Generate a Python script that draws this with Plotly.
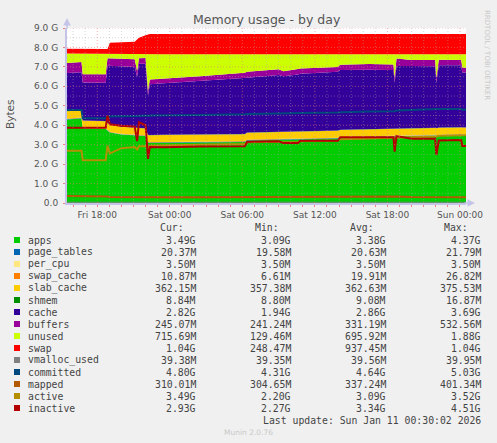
import plotly.graph_objects as go

# sample times (Fri 15:30 -> Sun 00:30)
times = ["2026-01-09 15:30", "2026-01-09 16:42", "2026-01-09 16:48", "2026-01-09 18:42",
         "2026-01-09 18:51", "2026-01-09 19:03", "2026-01-09 20:00", "2026-01-09 21:06",
         "2026-01-09 21:18", "2026-01-09 21:27", "2026-01-09 22:00", "2026-01-09 22:12",
         "2026-01-09 22:21", "2026-01-09 23:30", "2026-01-10 02:30", "2026-01-10 06:12",
         "2026-01-10 06:24", "2026-01-10 09:00", "2026-01-10 09:24", "2026-01-10 10:36",
         "2026-01-10 10:48", "2026-01-10 13:54", "2026-01-10 14:06", "2026-01-10 16:30",
         "2026-01-10 18:30", "2026-01-10 18:36", "2026-01-10 18:45", "2026-01-10 20:00",
         "2026-01-10 21:57", "2026-01-10 22:03", "2026-01-10 22:15", "2026-01-11 00:06",
         "2026-01-11 00:12", "2026-01-11 00:30"]

# stacked series, G
apps = [4.30, 4.35, 3.83, 3.80, 3.72, 3.62, 3.52, 3.48, 3.45, 3.47, 3.44, 3.10, 3.09, 3.10,
        3.11, 3.14, 3.22, 3.25, 3.24, 3.26, 3.28, 3.32, 3.36, 3.40, 3.42, 3.40, 3.44, 3.44,
        3.47, 3.45, 3.48, 3.50, 3.49, 3.49]
cache = [1.95, 1.95, 1.95, 1.97, 2.93, 3.03, 3.10, 3.11, 2.64, 3.29, 3.32, 2.03, 2.62, 2.65,
         2.76, 2.86, 2.82, 2.93, 2.87, 2.95, 2.96, 3.02, 3.08, 3.05, 3.02, 2.39, 3.20, 3.20,
         3.17, 2.34, 3.21, 3.19, 2.83, 2.82]
buffers = [0.52, 0.53, 0.43, 0.44, 0.39, 0.39, 0.40, 0.40, 0.30, 0.28, 0.29, 0.24, 0.24, 0.24,
           0.24, 0.30, 0.30, 0.29, 0.26, 0.28, 0.27, 0.25, 0.27, 0.29, 0.28, 0.25, 0.39, 0.31,
           0.31, 0.25, 0.28, 0.27, 0.25, 0.245]
unused = [0.48, 0.42, 1.04, 1.04, 0.21, 0.21, 0.23, 0.26, 0.86, 0.21, 0.20, 1.88, 1.30, 1.26,
          1.14, 0.95, 0.91, 0.78, 0.88, 0.76, 0.74, 0.66, 0.54, 0.51, 0.53, 1.21, 0.22, 0.30,
          0.30, 1.21, 0.28, 0.29, 0.68, 0.70]
swap = [0.25, 0.25, 0.25, 0.25, 0.26, 0.58, 0.61, 0.64, 0.75, 0.85, 0.98, 1.03, 1.04, 1.04,
        1.04, 1.03, 1.04, 1.04, 1.04, 1.04, 1.04, 1.04, 1.04, 1.04, 1.04, 1.04, 1.04, 1.04,
        1.04, 1.04, 1.04, 1.04, 1.04, 1.04]

# small stacked series, M
page_tables_m = [21.5, 21.8, 21.2, 21.0, 20.9, 20.8, 20.7, 20.6, 20.6, 20.5, 20.5, 19.6, 19.8,
                 20.1, 20.3, 20.5, 20.6, 20.6, 20.7, 20.6, 20.5, 20.6, 20.7, 20.8, 20.6, 20.5,
                 20.7, 20.6, 20.5, 20.4, 20.5, 20.4, 20.4, 20.37]
per_cpu_m = [3.5, 3.5, 3.5, 3.5, 3.5, 3.5, 3.5, 3.5, 3.5, 3.5, 3.5, 3.5, 3.5, 3.5, 3.5, 3.5, 3.5,
             3.5, 3.5, 3.5, 3.5, 3.5, 3.5, 3.5, 3.5, 3.5, 3.5, 3.5, 3.5, 3.5, 3.5, 3.5, 3.5, 3.5]
swap_cache_m = [26.8, 26.5, 25.9, 25.0, 24.3, 23.8, 23.1, 22.6, 22.4, 22.0, 21.7, 21.2, 20.8,
                20.1, 19.6, 19.2, 19.0, 18.6, 18.3, 18.1, 17.9, 17.5, 17.2, 16.8, 16.2, 15.8,
                15.4, 14.6, 13.8, 13.1, 12.5, 11.4, 11.0, 10.87]
slab_cache_m = [375.5, 372.0, 366.0, 364.0, 362.0, 361.0, 360.0, 359.0, 358.0, 358.0, 357.4,
                358.0, 360.0, 361.0, 362.0, 362.0, 363.0, 363.0, 362.0, 362.0, 363.0, 363.0,
                362.0, 362.0, 362.0, 361.0, 362.0, 363.0, 362.0, 362.0, 362.0, 362.0, 362.0, 362.15]
shmem_m = [16.9, 12.5, 10.0, 9.6, 9.3, 9.1, 9.0, 8.9, 8.9, 8.9, 8.9, 8.8, 8.8, 8.8, 8.8, 8.8,
           8.8, 8.8, 8.8, 8.8, 8.8, 8.8, 8.8, 8.8, 8.8, 8.8, 8.8, 8.8, 8.8, 8.8, 8.8, 8.8, 8.8, 8.84]

# line series
vmalloc_used_m = [39.9, 39.9, 39.8, 39.8, 39.7, 39.7, 39.7, 39.6, 39.6, 39.6, 39.6, 39.6, 39.5,
                  39.5, 39.5, 39.5, 39.5, 39.5, 39.5, 39.5, 39.5, 39.4, 39.4, 39.4, 39.4, 39.4,
                  39.4, 39.4, 39.4, 39.4, 39.4, 39.4, 39.4, 39.38]
committed = [4.78, 4.78, 4.36, 4.36, 4.45, 4.45, 4.47, 4.48, 4.46, 4.48, 4.50, 4.47, 4.50, 4.50,
             4.52, 4.57, 4.58, 4.60, 4.60, 4.62, 4.63, 4.66, 4.67, 4.70, 4.72, 4.72, 4.76, 4.78,
             4.82, 4.85, 4.84, 4.84, 4.80, 4.80]
mapped = [0.36, 0.36, 0.35, 0.35, 0.33, 0.31, 0.30, 0.30, 0.30, 0.30, 0.30, 0.30, 0.30, 0.30,
          0.30, 0.31, 0.31, 0.32, 0.32, 0.32, 0.32, 0.32, 0.33, 0.33, 0.33, 0.32, 0.33, 0.31,
          0.31, 0.31, 0.31, 0.30, 0.30, 0.30]
active = [2.69, 2.69, 2.20, 2.20, 2.95, 2.55, 2.82, 2.88, 2.75, 2.92, 2.92, 2.85, 2.95, 2.97,
          3.00, 3.03, 3.12, 3.15, 3.12, 3.14, 3.18, 3.22, 3.28, 3.32, 3.36, 3.34, 3.38, 3.40,
          3.44, 3.42, 3.46, 3.50, 3.49, 3.49]
inactive = [3.87, 3.87, 3.87, 3.87, 4.49, 4.05, 3.97, 3.93, 3.18, 4.15, 4.00, 2.27, 2.88, 2.87,
            2.90, 2.92, 3.15, 3.17, 3.08, 3.08, 3.20, 3.20, 3.38, 3.38, 3.38, 2.64, 3.44, 3.30,
            3.30, 2.47, 3.22, 3.24, 2.93, 2.93]

# legend table
names = ["apps", "page_tables", "per_cpu", "swap_cache", "slab_cache", "shmem", "cache",
         "buffers", "unused", "swap", "vmalloc_used", "committed", "mapped", "active", "inactive"]
colors = ["#00CC00", "#0066B3", "#FFE680", "#FF8000", "#FFCC00", "#008F00", "#330099",
          "#990099", "#CCFF00", "#FF0000", "#808080", "#00487D", "#B35A00", "#B38F00", "#B30000"]
cur_vals = ["3.49G", "20.37M", "3.50M", "10.87M", "362.15M", "8.84M", "2.82G", "245.07M",
            "715.69M", "1.04G", "39.38M", "4.80G", "310.01M", "3.49G", "2.93G"]
min_vals = ["3.09G", "19.58M", "3.50M", "6.61M", "357.38M", "8.80M", "1.94G", "241.24M",
            "129.46M", "248.47M", "39.35M", "4.31G", "304.65M", "2.20G", "2.27G"]
avg_vals = ["3.38G", "20.63M", "3.50M", "19.91M", "362.63M", "9.08M", "2.86G", "331.19M",
            "695.92M", "937.45M", "39.56M", "4.64G", "337.24M", "3.09G", "3.34G"]
max_vals = ["4.37G", "21.79M", "3.50M", "26.82M", "375.53M", "16.87M", "3.69G", "532.56M",
            "1.88G", "1.04G", "39.95M", "5.03G", "401.34M", "3.52G", "4.51G"]

y_tick_vals = [0, 1, 2, 3, 4, 5, 6, 7, 8, 9]
y_tick_text = ["0.0", "1.0 G", "2.0 G", "3.0 G", "4.0 G", "5.0 G", "6.0 G", "7.0 G", "8.0 G", "9.0 G"]

# pixel frame of the plot area
L, R, T, B = 67, 466, 28, 203


def px(x):
    return (x - L) / (R - L)


def py(y):
    return (B - y) / (B - T)


def mb(vals):
    return [v / 1024 for v in vals]


stacked = [apps, mb(page_tables_m), mb(per_cpu_m), mb(swap_cache_m), mb(slab_cache_m),
           mb(shmem_m), cache, buffers, unused, swap]
lines = [mb(vmalloc_used_m), committed, mapped, active, inactive]

fig = go.Figure()
for i, vals in enumerate(stacked):
    fig.add_trace(go.Scatter(x=times, y=vals, mode="lines", stackgroup="mem",
                             line=dict(width=0, color=colors[i]), fillcolor=colors[i],
                             hoverinfo="skip", showlegend=False))
for j, vals in enumerate(lines):
    k = len(stacked) + j
    fig.add_trace(go.Scatter(x=times, y=vals, mode="lines",
                             line=dict(width=1 if j == 0 else 2, color=colors[k]),
                             hoverinfo="skip", showlegend=False))

# rrdtool style dotted grid drawn over the data
shapes = []
for h in range(1, 19):
    v = h * 0.5
    major = h % 2 == 0
    shapes.append(dict(type="line", xref="paper", yref="y", x0=0, x1=1, y0=v, y1=v, layer="above",
                       line=dict(color="rgba(235,120,120,0.55)" if major else "rgba(170,170,170,0.45)",
                                 width=1, dash="1px,2px")))
for d, hr in [(9, h) for h in range(16, 24)] + [(10, h) for h in range(24)] + [(11, 0)]:
    ts = "2026-01-%02d %02d:00" % (d, hr)
    major = hr % 6 == 0
    shapes.append(dict(type="line", xref="x", yref="paper", x0=ts, x1=ts, y0=0, y1=1, layer="above",
                       line=dict(color="rgba(235,120,120,0.55)" if major else "rgba(170,170,170,0.45)",
                                 width=1, dash="1px,2px")))

mono = "DejaVu Sans Mono"
txt = "#444444"
ann = []
ann.append(dict(text="Memory usage - by day", x=0.5, y=py(19), xref="paper", yref="paper",
                xanchor="center", yanchor="middle", showarrow=False,
                font=dict(family="DejaVu Sans", size=12.5, color="#555555")))
ann.append(dict(text="Bytes", x=px(10), y=py(115), xref="paper", yref="paper", textangle=-90,
                xanchor="center", yanchor="middle", showarrow=False,
                font=dict(family="DejaVu Sans", size=10.5, color="#555555")))
ann.append(dict(text="RRDTOOL / TOBI OETIKER", x=px(487), y=py(55), xref="paper", yref="paper",
                textangle=90, xanchor="center", yanchor="middle", showarrow=False,
                font=dict(family="DejaVu Sans", size=7, color="#C8C8C8")))
# axis arrows
ann.append(dict(text="", x=0, y=py(18), xref="paper", yref="paper", ax=0, ay=12, showarrow=True,
                arrowhead=2, arrowsize=1, arrowwidth=1.5, arrowcolor="#C4C4E8"))
ann.append(dict(text="", x=px(475), y=0, xref="paper", yref="paper", ax=-12, ay=0, showarrow=True,
                arrowhead=2, arrowsize=1, arrowwidth=1.5, arrowcolor="#C4C4E8"))

for head, xr in [("Cur:", 186), ("Min:", 281), ("Avg:", 376), ("Max:", 470)]:
    ann.append(dict(text=head, x=px(xr), y=py(227), xref="paper", yref="paper", showarrow=False,
                    xanchor="right", yanchor="middle", font=dict(family=mono, size=9.8, color=txt)))

for i, name in enumerate(names):
    yy = 240 + 12 * i
    shapes.append(dict(type="rect", xref="paper", yref="paper", x0=px(14), x1=px(20),
                       y0=py(yy + 3), y1=py(yy - 3), fillcolor=colors[i],
                       line=dict(width=0)))
    ann.append(dict(text=name, x=px(26), y=py(yy), xref="paper", yref="paper", showarrow=False,
                    xanchor="left", yanchor="middle", font=dict(family=mono, size=9.8, color=txt)))
    for col, xr in [(cur_vals, 198), (min_vals, 293), (avg_vals, 388), (max_vals, 483)]:
        ann.append(dict(text=col[i], x=px(xr), y=py(yy), xref="paper", yref="paper",
                        showarrow=False, xanchor="right", yanchor="middle",
                        font=dict(family=mono, size=9.8, color=txt)))

ann.append(dict(text="Last update: Sun Jan 11 00:30:02 2026", x=px(483), y=py(420), xref="paper",
                yref="paper", showarrow=False, xanchor="right", yanchor="middle",
                font=dict(family=mono, size=9.8, color=txt)))
ann.append(dict(text="Munin 2.0.76", x=px(248), y=py(432), xref="paper", yref="paper",
                xanchor="center", yanchor="middle", showarrow=False,
                font=dict(family="DejaVu Sans", size=7.5, color="#C8C8C8")))

fig.update_layout(
    width=497, height=443,
    margin=dict(l=L, r=497 - R, t=T, b=443 - B, pad=0),
    paper_bgcolor="#F0F0F0", plot_bgcolor="#FFFFFF",
    showlegend=False,
    shapes=shapes, annotations=ann,
    xaxis=dict(type="date", range=[times[0], times[-1]], tick0="2026-01-09 00:00",
               dtick=6 * 3600 * 1000, tickformat="%a %H:%M", showgrid=False, zeroline=False,
               showline=True, linecolor="#C4C4E8", linewidth=2, automargin=False,
               ticks="outside", ticklen=2, tickcolor="#F08080",
               minor=dict(dtick=3600 * 1000, ticks="outside", ticklen=2, tickcolor="#F08080"),
               tickfont=dict(family="DejaVu Sans", size=9, color="#555555")),
    yaxis=dict(range=[0, 9], tickvals=y_tick_vals, ticktext=y_tick_text, showgrid=False,
               zeroline=False, showline=True, linecolor="#C4C4E8", linewidth=2, automargin=False,
               ticks="outside", ticklen=2, tickcolor="#F08080", ticklabelstandoff=3,
               tickfont=dict(family="DejaVu Sans", size=9, color="#555555")),
)

# page body margin off so the figure sits at the window's corner
fig.write_html("out.html", config={"displayModeBar": False},
               post_script="document.body.style.margin='0';"
                           "document.body.style.background='#F0F0F0';")
